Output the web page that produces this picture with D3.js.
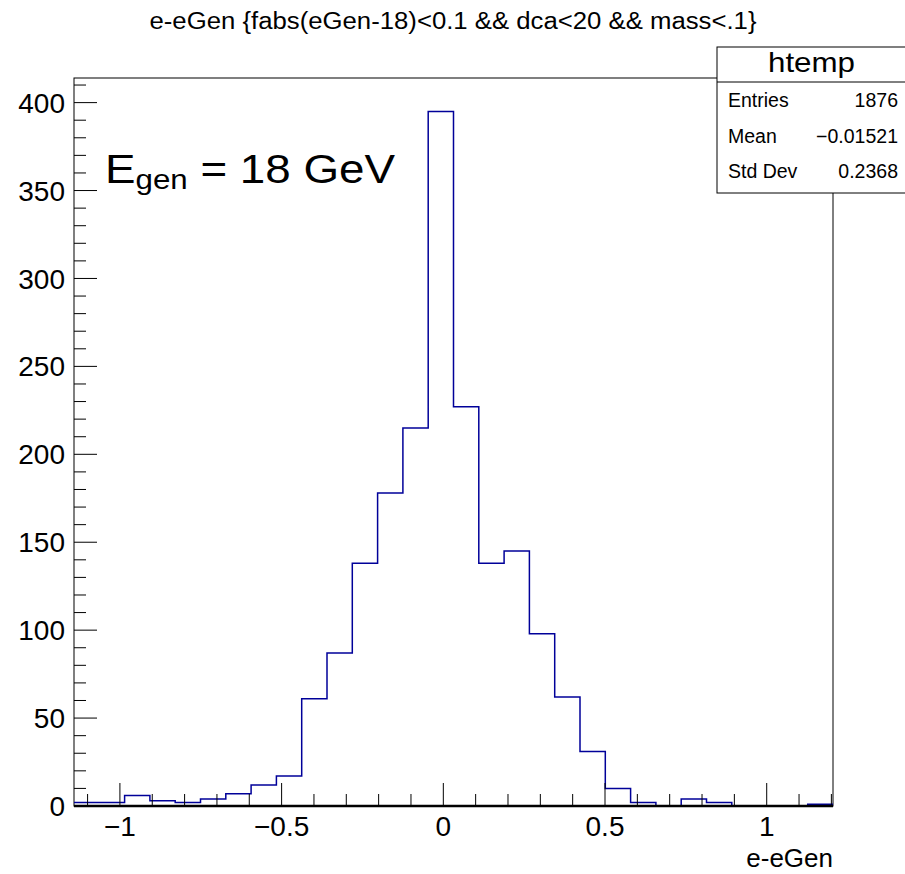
<!DOCTYPE html>
<html>
<head>
<meta charset="utf-8">
<script src="https://cdn.jsdelivr.net/npm/d3@7"></script>
<style>
  body { margin: 0; background: #fff; }
  text { font-family: "Liberation Sans", Arial, sans-serif; fill: #000; }
</style>
</head>
<body>
<div id="chart"></div>
<script>
//-- Histogram data (30 bins between x_min and x_max)
var x_min = -1.142;
var x_max = 1.205;
var bin_counts = [2, 2, 6, 3, 2, 4, 7, 12, 17, 61,
                  87, 138, 178, 215, 395, 227, 138, 145, 98, 62,
                  31, 10, 2, 0, 4, 2, 0, 0, 0, 1];

var x_ticks = [-1, -0.5, 0, 0.5, 1];
var y_ticks = [0, 50, 100, 150, 200, 250, 300, 350, 400];
var y_max = 414;

var title_text = "e-eGen {fabs(eGen-18)<0.1 && dca<20 && mass<.1}";
var x_title = "e-eGen";
var stats_name = "htemp";
var stats_labels = ["Entries", "Mean", "Std Dev"];
var stats_values = ["1876", "\u22120.01521", "0.2368"];

var tot_width = 905, tot_height = 874;
var margin = {left: 74, right: 72, top: 78, bottom: 68};
var width = tot_width - margin.left - margin.right;
var height = tot_height - margin.top - margin.bottom;

var svg = d3.select("#chart")
  .append("svg")
    .attr("width", tot_width)
    .attr("height", tot_height);

svg.append("rect")
  .attr("width", tot_width)
  .attr("height", tot_height)
  .attr("fill", "white");

var g = svg.append("g")
  .attr("transform", "translate(" + margin.left + "," + margin.top + ")");

var x = d3.scaleLinear().domain([x_min, x_max]).range([0, width]);
var y = d3.scaleLinear().domain([0, y_max]).range([height, 0]);

//-- Frame
g.append("rect")
  .attr("width", width)
  .attr("height", height)
  .attr("fill", "none")
  .attr("stroke", "#000")
  .attr("stroke-width", 1);

//-- Histogram outline
var n_bins = bin_counts.length;
var bin_w = (x_max - x_min) / n_bins;
var pts = [];
for (var i=0; i<n_bins; i++) {
  pts.push([x(x_min + i*bin_w), y(bin_counts[i])]);
  pts.push([x(x_min + (i+1)*bin_w), y(bin_counts[i])]);
}
g.append("path")
  .attr("d", d3.line()(pts))
  .attr("fill", "none")
  .attr("stroke", "#000099")
  .attr("stroke-width", 1.5);

//-- Y axis: major + minor ticks
var y_minor = d3.range(0, y_max, 10);
g.append("g").selectAll("line")
  .data(y_minor)
  .enter()
  .append("line")
    .attr("x1", 0)
    .attr("x2", function (d) {return d % 50 == 0 ? 23 : 12;})
    .attr("y1", function (d) {return y(d);})
    .attr("y2", function (d) {return y(d);})
    .attr("stroke", "#000")
    .attr("stroke-width", 1);

g.append("g").selectAll("text")
  .data(y_ticks)
  .enter()
  .append("text")
    .attr("x", -9)
    .attr("y", function (d) {return y(d);})
    .attr("dy", "0.36em")
    .attr("text-anchor", "end")
    .style("font-size", "28px")
    .text(function (d) {return d;});

//-- X axis
var x_minor = d3.range(-11, 13).map(function (k) {return k / 10;});
g.append("g").selectAll("line")
  .data(x_minor)
  .enter()
  .append("line")
    .attr("x1", function (d) {return x(d);})
    .attr("x2", function (d) {return x(d);})
    .attr("y1", height)
    .attr("y2", function (d) {return height - (Math.abs(d*2 - Math.round(d*2)) < 1e-6 ? 23 : 12);})
    .attr("stroke", "#000")
    .attr("stroke-width", 1);

g.append("line")
  .attr("x1", 0)
  .attr("x2", width)
  .attr("y1", height)
  .attr("y2", height)
  .attr("stroke", "#000")
  .attr("stroke-width", 2.5);

g.append("g").selectAll("text")
  .data(x_ticks)
  .enter()
  .append("text")
    .attr("x", function (d) {return x(d);})
    .attr("y", height + 30)
    .attr("text-anchor", "middle")
    .style("font-size", "28px")
    .text(function (d) {return d < 0 ? "\u2212" + Math.abs(d) : d;});

g.append("text")
  .attr("x", width)
  .attr("y", height + 61)
  .attr("text-anchor", "end")
  .style("font-size", "26px")
  .text(x_title);

//-- Title
svg.append("text")
  .attr("x", 453)
  .attr("y", 29)
  .attr("text-anchor", "middle")
  .attr("textLength", 607)
  .attr("lengthAdjust", "spacingAndGlyphs")
  .style("font-size", "23px")
  .text(title_text);

//-- Label
var lab = g.append("text")
  .attr("x", 31)
  .attr("y", 105)
  .attr("textLength", 290)
  .attr("lengthAdjust", "spacingAndGlyphs")
  .style("font-size", "41px");
lab.append("tspan").text("E");
lab.append("tspan").attr("dy", 6).style("font-size", "28px").text("gen");
lab.append("tspan").attr("dy", -6).text(" = 18 GeV");

//-- Stats box
var sb = {x: 717, y: 47, w: 195, h: 146, head: 35};
svg.append("rect")
  .attr("x", sb.x).attr("y", sb.y)
  .attr("width", sb.w).attr("height", sb.h)
  .attr("fill", "white")
  .attr("stroke", "#000")
  .attr("stroke-width", 1);
svg.append("line")
  .attr("x1", sb.x).attr("x2", sb.x + sb.w)
  .attr("y1", sb.y + sb.head).attr("y2", sb.y + sb.head)
  .attr("stroke", "#000");
svg.append("text")
  .attr("x", 811.5).attr("y", 72)
  .attr("text-anchor", "middle")
  .attr("textLength", 87)
  .attr("lengthAdjust", "spacingAndGlyphs")
  .style("font-size", "28px")
  .text(stats_name);
svg.selectAll(".stat.label")
  .data(stats_labels)
  .enter()
  .append("text")
    .attr("class", "stat label")
    .attr("x", 728)
    .attr("y", function (d, i) {return 107 + i*35.5;})
    .style("font-size", "19.5px")
    .text(function (d) {return d;});
svg.selectAll(".stat.value")
  .data(stats_values)
  .enter()
  .append("text")
    .attr("class", "stat value")
    .attr("x", 898)
    .attr("y", function (d, i) {return 107 + i*35.5;})
    .attr("text-anchor", "end")
    .style("font-size", "19.5px")
    .text(function (d) {return d;});
</script>
</body>
</html>
